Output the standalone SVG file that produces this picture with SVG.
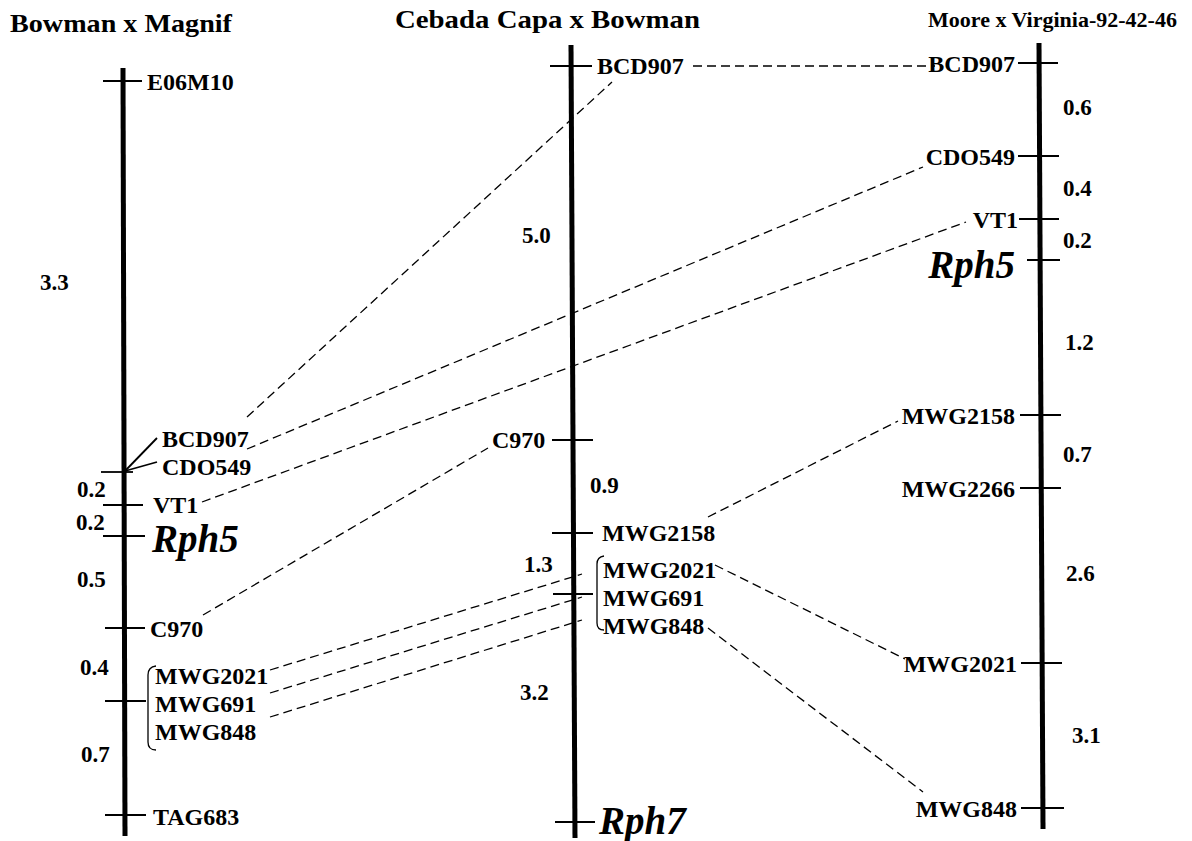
<svg xmlns="http://www.w3.org/2000/svg" width="1192" height="841" viewBox="0 0 1192 841">
<style>
text{font-family:"Liberation Serif","Times New Roman",serif;font-weight:bold;fill:#000}
.t{font-size:26px}
.m{font-size:24px}
.n{font-size:23px}
.g{font-size:39px;font-style:italic}
.e{text-anchor:end}
.chr{stroke:#000;stroke-width:5;fill:none}
.tk{stroke:#000;stroke-width:1.8;fill:none}
.br{stroke:#000;stroke-width:1.3;fill:none}
.d{stroke:#000;stroke-width:1.3;fill:none;stroke-dasharray:9 5}
</style>
<rect width="1192" height="841" fill="#fff"/>
<g id="titles">
<text class="t" x="10" y="32" textLength="222" lengthAdjust="spacingAndGlyphs">Bowman x Magnif</text>
<text class="t" x="395" y="28" textLength="305" lengthAdjust="spacingAndGlyphs">Cebada Capa x Bowman</text>
<text x="928" y="27" style="font-size:22px">Moore x Virginia-92-42-46</text>
</g>
<g id="map-left">
<line class="chr" x1="123" y1="68" x2="125" y2="836"/>
<line class="tk" x1="103" y1="81" x2="142" y2="81"/>
<text class="m" x="147" y="90">E06M10</text>
<text class="n" x="40" y="290">3.3</text>
<line class="tk" x1="101" y1="472" x2="133" y2="472"/>
<line class="tk" x1="125" y1="471" x2="157" y2="438"/>
<line class="tk" x1="125" y1="471" x2="157" y2="462"/>
<text class="m" x="162" y="447">BCD907</text>
<text class="m" x="162" y="475">CDO549</text>
<text class="n" x="77" y="497">0.2</text>
<line class="tk" x1="103" y1="505" x2="143" y2="505"/>
<text class="m" x="153" y="513">VT1</text>
<text class="n" x="76" y="530">0.2</text>
<line class="tk" x1="103" y1="536" x2="145" y2="536"/>
<text class="g" x="152" y="552">Rph5</text>
<text class="n" x="77" y="587">0.5</text>
<line class="tk" x1="105" y1="628" x2="145" y2="628"/>
<text class="m" x="150" y="637">C970</text>
<text class="n" x="80" y="675">0.4</text>
<path class="br" d="M156,666 Q148,667 148,675 L148,742 Q148,750 156,750"/>
<line class="tk" x1="105" y1="701" x2="146" y2="701"/>
<text class="m" x="155" y="684">MWG2021</text>
<text class="m" x="155" y="712">MWG691</text>
<text class="m" x="155" y="740">MWG848</text>
<text class="n" x="81" y="762">0.7</text>
<line class="tk" x1="105" y1="815" x2="146" y2="815"/>
<text class="m" x="153" y="825">TAG683</text>
</g>
<g id="map-middle">
<line class="chr" x1="571" y1="45" x2="575" y2="838"/>
<line class="tk" x1="550" y1="66" x2="592" y2="66"/>
<text class="m" x="597" y="74">BCD907</text>
<text class="n" x="522" y="243">5.0</text>
<line class="tk" x1="552" y1="440" x2="593" y2="440"/>
<text class="m" x="492" y="448">C970</text>
<text class="n" x="590" y="493">0.9</text>
<line class="tk" x1="552" y1="533" x2="593" y2="533"/>
<text class="m" x="602" y="541">MWG2158</text>
<text class="n" x="524" y="572">1.3</text>
<path class="br" d="M604,556 Q597,557 597,564 L597,623 Q597,630 604,630"/>
<line class="tk" x1="553" y1="594" x2="593" y2="594"/>
<text class="m" x="603" y="578">MWG2021</text>
<text class="m" x="603" y="606">MWG691</text>
<text class="m" x="603" y="634">MWG848</text>
<text class="n" x="520" y="700">3.2</text>
<line class="tk" x1="555" y1="822" x2="595" y2="822"/>
<text class="g" x="599" y="834">Rph7</text>
</g>
<g id="map-right">
<line class="chr" x1="1039" y1="43" x2="1043" y2="829"/>
<line class="tk" x1="1018" y1="63" x2="1058" y2="63"/>
<text class="m e" x="1015" y="72">BCD907</text>
<text class="n" x="1063" y="115">0.6</text>
<line class="tk" x1="1018" y1="156" x2="1059" y2="156"/>
<text class="m e" x="1015" y="165">CDO549</text>
<text class="n" x="1063" y="196">0.4</text>
<line class="tk" x1="1019" y1="219" x2="1059" y2="219"/>
<text class="m e" x="1018" y="228">VT1</text>
<text class="n" x="1063" y="248">0.2</text>
<line class="tk" x1="1027" y1="260" x2="1060" y2="260"/>
<text class="g e" x="1015" y="278">Rph5</text>
<text class="n" x="1065" y="350">1.2</text>
<line class="tk" x1="1020" y1="415" x2="1061" y2="415"/>
<text class="m e" x="1015" y="424">MWG2158</text>
<text class="n" x="1063" y="462">0.7</text>
<line class="tk" x1="1020" y1="488" x2="1061" y2="488"/>
<text class="m e" x="1015" y="497">MWG2266</text>
<text class="n" x="1066" y="581">2.6</text>
<line class="tk" x1="1021" y1="663" x2="1062" y2="663"/>
<text class="m e" x="1017" y="672">MWG2021</text>
<text class="n" x="1072" y="743">3.1</text>
<line class="tk" x1="1021" y1="808" x2="1064" y2="808"/>
<text class="m e" x="1017" y="817">MWG848</text>
</g>
<g id="connectors">
<line class="d" x1="247" y1="417" x2="612" y2="82"/>
<line class="d" x1="693" y1="66" x2="935" y2="66"/>
<line class="d" x1="247" y1="449" x2="923" y2="167"/>
<line class="d" x1="202" y1="502" x2="966" y2="222"/>
<line class="d" x1="203" y1="615" x2="488" y2="448"/>
<line class="d" x1="270" y1="670" x2="582" y2="574"/>
<line class="d" x1="270" y1="693" x2="582" y2="597"/>
<line class="d" x1="270" y1="717" x2="582" y2="620"/>
<line class="d" x1="708" y1="517" x2="898" y2="421"/>
<line class="d" x1="715" y1="565" x2="905" y2="659"/>
<line class="d" x1="708" y1="628" x2="923" y2="792"/>
</g>
</svg>
